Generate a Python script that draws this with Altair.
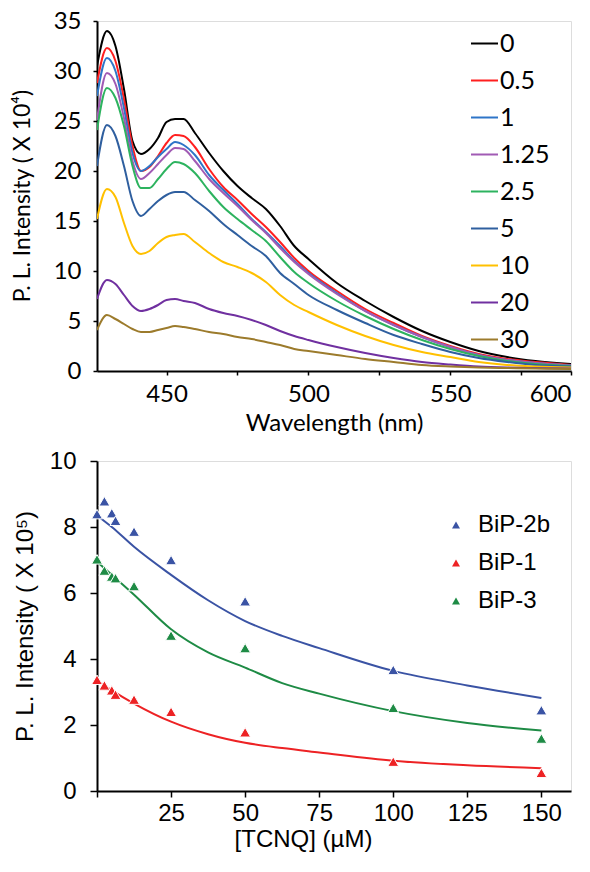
import altair as alt
import pandas as pd

# ---------------- Top panel: PL spectra ----------------
wavelengths = [425.5, 429, 432, 435, 438, 441, 444, 447, 450, 453, 456, 460, 465, 470,
               475, 480, 485, 490, 495, 500, 510, 520, 530, 540, 550, 560, 570, 580, 592.5]

conc_names = ["0", "0.5", "1", "1.25", "2.5", "5", "10", "20", "30"]
conc_colors = ["#000000", "#FF1F1F", "#2E75C8", "#A15BB4", "#2DB35F",
               "#2F5F9F", "#FFC000", "#7030A0", "#9C7B2C"]

s_0 = [30.5, 34.0, 32.5, 28.2, 23.0, 21.7, 22.2, 23.3, 24.9, 25.2, 25.2, 23.8, 21.8, 20.0,
       18.5, 17.3, 16.2, 14.5, 12.5, 11.2, 8.8, 7.0, 5.4, 4.0, 2.9, 2.0, 1.4, 1.0, 0.7]
s_05 = [28.8, 32.3, 31.0, 27.2, 22.5, 20.0, 20.4, 21.5, 22.8, 23.6, 23.5, 22.4, 20.2, 18.4,
        17.1, 15.7, 14.4, 12.9, 11.3, 10.0, 8.0, 6.2, 4.8, 3.5, 2.5, 1.7, 1.2, 0.9, 0.6]
s_1 = [27.5, 31.3, 30.0, 26.3, 21.8, 20.0, 20.5, 21.4, 22.2, 22.9, 22.6, 21.6, 19.6, 18.1,
       16.7, 15.2, 13.9, 12.5, 11.0, 9.8, 7.8, 6.0, 4.6, 3.4, 2.4, 1.6, 1.1, 0.8, 0.55]
s_125 = [25.1, 29.8, 28.7, 25.3, 21.0, 19.2, 19.8, 20.7, 21.6, 22.3, 22.2, 21.0, 19.2, 17.8,
         16.5, 15.1, 13.8, 12.3, 10.9, 9.7, 7.7, 6.0, 4.6, 3.4, 2.4, 1.6, 1.1, 0.8, 0.55]
s_25 = [24.1, 28.3, 27.3, 24.5, 20.5, 18.3, 18.3, 19.2, 20.2, 20.9, 20.7, 19.8, 18.0, 16.4,
        15.2, 14.1, 13.0, 11.4, 9.9, 8.8, 7.0, 5.5, 4.2, 3.1, 2.2, 1.5, 1.0, 0.7, 0.5]
s_5 = [20.5, 24.6, 23.5, 20.5, 17.0, 15.5, 16.2, 17.0, 17.6, 17.9, 17.9, 17.1, 16.0, 14.7,
       13.6, 12.5, 11.5, 9.8, 8.7, 7.6, 6.1, 4.8, 3.6, 2.7, 1.9, 1.3, 0.9, 0.6, 0.45]
s_10 = [15.2, 18.2, 17.4, 14.8, 12.5, 11.7, 12.0, 12.8, 13.4, 13.6, 13.7, 12.9, 11.8, 10.9,
        10.4, 9.8, 8.9, 7.6, 6.6, 5.9, 4.6, 3.5, 2.6, 1.9, 1.4, 0.9, 0.6, 0.45, 0.35]
s_20 = [7.2, 9.1, 8.7, 7.6, 6.5, 6.0, 6.2, 6.6, 7.1, 7.2, 7.0, 6.8, 6.2, 5.8,
        5.5, 5.1, 4.6, 4.0, 3.5, 3.1, 2.4, 1.8, 1.3, 0.9, 0.65, 0.45, 0.35, 0.3, 0.25]
s_30 = [4.1, 5.6, 5.2, 4.7, 4.2, 3.9, 3.9, 4.1, 4.3, 4.5, 4.4, 4.2, 3.9, 3.7,
        3.4, 3.2, 2.9, 2.6, 2.2, 2.0, 1.6, 1.2, 0.9, 0.6, 0.45, 0.35, 0.3, 0.25, 0.2]

spectra = [s_0, s_05, s_1, s_125, s_25, s_5, s_10, s_20, s_30]
top_y_title = ["P. L. Intensity ( X 10⁴)"]

rows = []
for name, vals in zip(conc_names, spectra):
    for w, v in zip(wavelengths, vals):
        rows.append({"wl": w, "val": v, "conc": name})
df_top = pd.DataFrame(rows)

TOPFONT = "Lato"
TOP_H = 350

top_lines = alt.Chart(df_top).mark_line(strokeWidth=2, clip=True, interpolate="monotone").encode(
    x=alt.X("wl:Q",
            scale=alt.Scale(domain=[425.5, 592.5], nice=False, zero=False),
            axis=alt.Axis(title="Wavelength (nm)",
                          values=[450, 475, 500, 525, 550, 575, 592.5],
                          labelExpr="datum.value == 592.5 ? '600' : (datum.value % 50 == 0 ? datum.label : '')",
                          grid=False, domainColor="black", domainWidth=2,
                          tickColor="black", tickWidth=1.5, tickSize=4,
                          labelFont=TOPFONT, labelFontSize=24, labelColor="black",
                          labelPadding=7, labelFlush=True,
                          titleFont=TOPFONT, titleFontSize=24, titleFontWeight="normal",
                          titleColor="black", titlePadding=5, titleLimit=1000)),
    y=alt.Y("val:Q",
            scale=alt.Scale(domain=[0, 35], nice=False),
            axis=alt.Axis(title=None,
                          values=[0, 5, 10, 15, 20, 25, 30, 35],
                          grid=False, domainColor="black", domainWidth=2,
                          tickColor="black", tickWidth=1.5, tickSize=4,
                          labelFont=TOPFONT, labelFontSize=24, labelColor="black",
                          labelPadding=12)),
    color=alt.Color("conc:N",
                    scale=alt.Scale(domain=conc_names, range=conc_colors),
                    sort=conc_names,
                    legend=alt.Legend(title=None, orient="none", legendX=373, legendY=8,
                                      symbolType="stroke", symbolSize=729,
                                      symbolStrokeWidth=2, labelFont=TOPFONT,
                                      labelFontSize=25, labelColor="black",
                                      labelOffset=1, rowPadding=9, padding=0)),
    detail="conc:N",
)

top_title = alt.Chart(pd.DataFrame({"t": top_y_title})).mark_text(
    angle=270, align="center", baseline="middle", font=TOPFONT, fontSize=23,
    color="black"
).encode(text="t:N", x=alt.value(-74), y=alt.value(TOP_H / 2))

top = alt.layer(top_lines, top_title).properties(width=474, height=TOP_H)

# ---------------- Bottom panel: quenching ----------------
series_names = ["BiP-2b", "BiP-1", "BiP-3"]
series_colors = ["#3A53A4", "#ED2224", "#1E8B45"]

tcnq = [0, 2.5, 5, 6.25, 12.5, 25, 50, 100, 150]
pts_2b = [8.39, 8.78, 8.42, 8.19, 7.86, 7.0, 5.75, 3.67, 2.45]
pts_1 = [3.37, 3.2, 3.05, 2.92, 2.77, 2.4, 1.78, 0.89, 0.55]
pts_3 = [7.02, 6.68, 6.5, 6.45, 6.21, 4.71, 4.33, 2.52, 1.59]

fit_x = [0, 5, 12.5, 25, 37.5, 50, 62.5, 75, 100, 125, 150]
fit_2b = [8.35, 8.0, 7.4, 6.55, 5.78, 5.15, 4.7, 4.33, 3.64, 3.2, 2.82]
fit_1 = [3.35, 3.05, 2.65, 2.1, 1.72, 1.46, 1.3, 1.17, 0.92, 0.78, 0.69]
fit_3 = [6.95, 6.55, 5.95, 4.9, 4.2, 3.74, 3.27, 2.95, 2.42, 2.06, 1.83]

prow = []
for name, vals in zip(series_names, [pts_2b, pts_1, pts_3]):
    for x, v in zip(tcnq, vals):
        prow.append({"c": x, "v": v, "s": name})
df_pts = pd.DataFrame(prow)

frow = []
for name, vals in zip(series_names, [fit_2b, fit_1, fit_3]):
    for x, v in zip(fit_x, vals):
        frow.append({"c": x, "v": v, "s": name})
df_fit = pd.DataFrame(frow)

BOTFONT = "Liberation Sans"
BOT_H = 330

xb = alt.X("c:Q", scale=alt.Scale(domain=[0, 160], nice=False),
           axis=alt.Axis(title="[TCNQ] (µM)", values=[0, 25, 50, 75, 100, 125, 150],
                         labelExpr="datum.value == 0 ? '' : datum.label",
                         grid=False, domainColor="black", domainWidth=2,
                         tickColor="black", tickWidth=1.5, tickSize=6,
                         labelFont=BOTFONT, labelFontSize=24, labelColor="black",
                         labelPadding=4, labelFlush=False,
                         titleFont=BOTFONT, titleFontSize=24, titleFontWeight="normal",
                         titleColor="black", titlePadding=2, titleX=206, titleLimit=1000))
yb = alt.Y("v:Q", scale=alt.Scale(domain=[0, 10], nice=False),
           axis=alt.Axis(title="P. L. Intensity ( X 10⁵)", values=[0, 2, 4, 6, 8, 10],
                         grid=False, domainColor="black", domainWidth=2,
                         tickColor="black", tickWidth=1.5, tickSize=7,
                         labelFont=BOTFONT, labelFontSize=24, labelColor="black",
                         labelPadding=14,
                         titleFont=BOTFONT, titleFontSize=24, titleFontWeight="normal",
                         titleColor="black", titlePadding=12, titleLimit=1000))
cscale = alt.Scale(domain=series_names, range=series_colors)

fit_lines = alt.Chart(df_fit).mark_line(strokeWidth=2, interpolate="monotone").encode(
    x=xb, y=yb, stroke=alt.Stroke("s:N", scale=cscale, legend=None), detail="s:N")

points = alt.Chart(df_pts).mark_point(shape="triangle-up", filled=True, size=120,
                                       stroke="white", strokeWidth=1, opacity=1).encode(
    x=xb, y=yb,
    fill=alt.Fill("s:N", scale=cscale, sort=series_names,
                  legend=alt.Legend(title=None, orient="none", legendX=347, legendY=52,
                                    symbolType="triangle-up", symbolSize=64,
                                    symbolStrokeWidth=0,
                                    labelFont=BOTFONT, labelFontSize=24, labelColor="black",
                                    labelOffset=10, rowPadding=14, padding=0)))

bottom = alt.layer(fit_lines, points).resolve_scale(
    stroke="independent", fill="independent").properties(width=474, height=BOT_H)

chart = alt.vconcat(top, bottom, spacing=12).resolve_scale(
    color="independent", fill="independent", stroke="independent"
).resolve_legend(color="independent", fill="independent", stroke="independent").configure_view(
    stroke="black", strokeWidth=2
).configure(padding={"left": 3, "top": 0, "right": 0, "bottom": 0}, background="white")

chart.save("out.html", embed_options={"renderer": "svg", "actions": False})
